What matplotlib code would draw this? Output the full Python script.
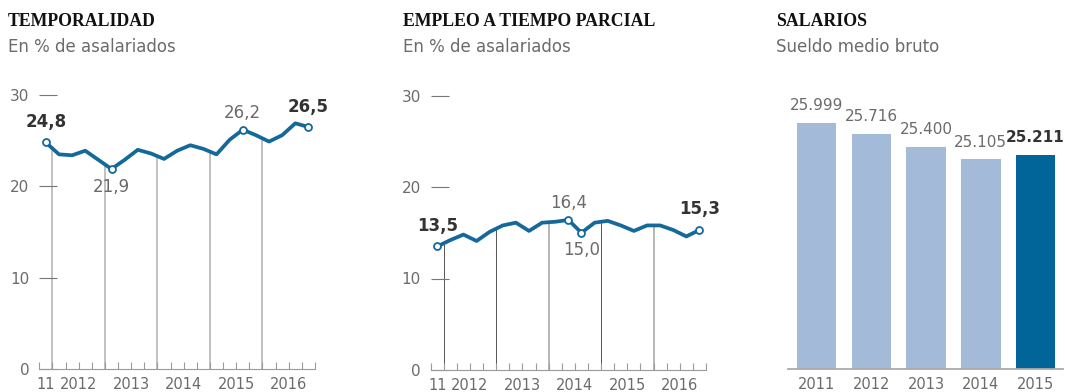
import numpy as np
import matplotlib
matplotlib.use("Agg")
import matplotlib.pyplot as plt

# datos
temporalidad = [24.8, 23.5, 23.4, 23.9, 22.9, 21.9, 22.9, 24.0, 23.6, 23.0, 23.9,
                24.5, 24.1, 23.5, 25.1, 26.2, 25.6, 24.9, 25.6, 26.9, 26.5]
parcial = [13.5, 14.2, 14.8, 14.1, 15.1, 15.8, 16.1, 15.2, 16.1, 16.2, 16.4,
           15.0, 16.1, 16.3, 15.8, 15.2, 15.8, 15.8, 15.3, 14.6, 15.3]
year_labels = ["11", "2012", "2013", "2014", "2015", "2016"]
year_pos = [0.5, 3, 7, 11, 15, 19]
year_lines = [1, 5, 9, 13, 17]
yticks = [0, 10, 20, 30]

sal_years = ["2011", "2012", "2013", "2014", "2015"]
salarios = [25999, 25716, 25400, 25105, 25211]

W, H = 1065, 392
BLUE = "#14699a"
GREY_TXT = "#6b6b6b"
DARK_TXT = "#333333"

fig = plt.figure(figsize=(W / 100, H / 100), dpi=100)


def px_axes(left, top, right, bottom):
    return fig.add_axes([left / W, 1 - bottom / H, (right - left) / W, (bottom - top) / H])


def header(x, title, sub):
    fig.text(x / W, 1 - 21 / H, title, fontsize=12.8, fontweight="bold",
             family="Liberation Serif", color="#111111", va="center", ha="left")
    fig.text(x / W, 1 - 47 / H, sub, fontsize=12, color=GREY_TXT,
             va="center", ha="left")


def year_text(ax, xs, labels):
    for x, lab in zip(xs, labels):
        ax.annotate(lab, (x, 0), xycoords=("data", "axes fraction"),
                    xytext=(0, -11.5), textcoords="offset points",
                    ha="center", va="center", fontsize=10.5, color=GREY_TXT)


def line_chart(ax, vals, marks, line_styles):
    xs = np.arange(len(vals)) + 0.5
    ax.set_xlim(0, 21)
    ax.set_ylim(0, 30)
    for x, (c, lw) in zip(year_lines, line_styles):
        top = np.interp(x, xs, vals)
        ax.plot([x, x], [0, top], color=c, lw=lw, zorder=1)
    ax.plot(xs, vals, color=BLUE, lw=2.7, solid_joinstyle="round", zorder=2)
    for i, dy, bold in marks:
        ax.plot(xs[i], vals[i], "o", ms=5, mfc="white", mec=BLUE, mew=1.3, zorder=3)
        ax.annotate(f"{vals[i]:.1f}".replace(".", ","), (xs[i], vals[i]),
                    xytext=(0, dy), textcoords="offset points", ha="center", va="center",
                    fontsize=12, fontweight="bold" if bold else "normal",
                    color=DARK_TXT if bold else GREY_TXT)
    for s in ["top", "right", "left"]:
        ax.spines[s].set_visible(False)
    ax.spines["bottom"].set_color("#9a9a9a")
    ax.set_yticks(yticks)
    ax.tick_params(axis="y", direction="in", length=13, width=0.8, color="#777777",
                   pad=7, labelsize=11, labelcolor=GREY_TXT)
    ax.set_xticks(range(22))
    ax.set_xticklabels([])
    ax.tick_params(axis="x", direction="in", length=5, width=0.8, color="#9a9a9a")
    year_text(ax, year_pos, year_labels)
    ax.patch.set_visible(False)


# temporalidad
header(8, "TEMPORALIDAD", "En % de asalariados")
ax1 = px_axes(39.3, 95, 315, 369)
line_chart(ax1, temporalidad,
           [(0, 14.5, True), (5, -13, False), (15, 12, False), (20, 14.5, True)],
           [("#b0b0b0", 1.1)] * 5)

# empleo a tiempo parcial
header(403, "EMPLEO A TIEMPO PARCIAL", "En % de asalariados")
ax2 = px_axes(430.7, 95.5, 706, 370)
line_chart(ax2, parcial,
           [(0, 15, True), (10, 12, False), (11, -12.5, False), (20, 15, True)],
           [("#555555", 0.7), ("#555555", 0.7), ("#b5b5b5", 1.4),
            ("#555555", 0.7), ("#b5b5b5", 1.4)])

# salarios
header(776, "SALARIOS", "Sueldo medio bruto")
ax3 = px_axes(788, 95, 1063, 369)
ax3.set_xlim(-0.52, 4.5)
ax3.set_ylim(20000, 20000 + 274 / 0.04105)
colors = ["#a3bbd8"] * 4 + ["#02659a"]
ax3.bar(range(5), salarios, bottom=0, width=0.72, color=colors)
for i, v in enumerate(salarios):
    last = i == len(salarios) - 1
    ax3.annotate(f"{v:,}".replace(",", "."), (i, v), xytext=(0, 12.5),
                 textcoords="offset points", ha="center", va="center", fontsize=11,
                 fontweight="bold" if last else "normal",
                 color=DARK_TXT if last else GREY_TXT)
for s in ["top", "right", "left"]:
    ax3.spines[s].set_visible(False)
ax3.spines["bottom"].set_color("#aaaaaa")
ax3.spines["bottom"].set_linewidth(1.3)
ax3.set_yticks([])
ax3.set_xticks([])
year_text(ax3, range(5), sal_years)
ax3.patch.set_visible(False)

fig.savefig("out.png", dpi=100)
